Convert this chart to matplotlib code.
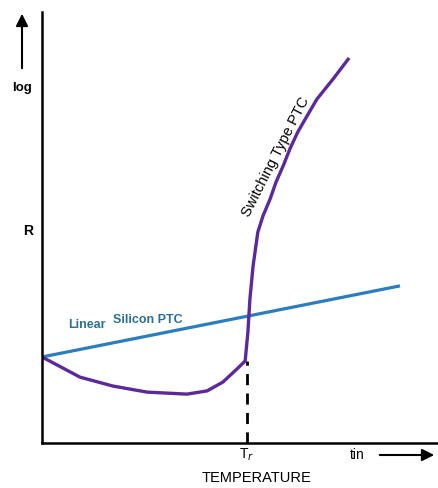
import matplotlib.pyplot as plt

plt.rcParams['font.family'] = ['Liberation Sans', 'DejaVu Sans']

# temperature (0-100, linear) vs log R (arbitrary units)
silicon_t = [0, 90.4]
silicon_r = [21.3, 38.9]

switch_t = [0, 9.6, 17.9, 26.5, 36.6, 41.7, 45.7, 49.2, 51.3, 52.0, 52.5, 53.3,
            54.5, 55.8, 57.6, 59.1, 60.9, 62.6, 64.6, 66.9, 69.4, 73.5, 77.3]
switch_r = [21.3, 16.3, 14.1, 12.6, 12.1, 12.9, 15.1, 18.3, 20.3, 27.5, 35.6, 43.8,
            52.2, 56.2, 60.4, 64.6, 68.6, 72.8, 77.0, 80.9, 85.1, 90.1, 95.0]

t_r = 51.8
t_r_level = 20.3

W, H = 438, 489
fig = plt.figure(figsize=(W / 100, H / 100), dpi=100)
ax = fig.add_axes([42 / W, 45 / H, 396 / W, 431 / H])
ax.set_xlim(0, 100)
ax.set_ylim(0, 106.7)

ax.plot(silicon_t, silicon_r, color='#2a7dc0', lw=2.3, solid_capstyle='butt')
ax.plot(switch_t, switch_r, color='#5a2a9c', lw=2.4, solid_joinstyle='round')
ax.plot([t_r, t_r], [0, t_r_level], color='black', lw=2, ls=(0, (4, 3)))

for s in ['top', 'right']:
    ax.spines[s].set_visible(False)
for s in ['left', 'bottom']:
    ax.spines[s].set_linewidth(1.8)
ax.set_xticks([])
ax.set_yticks([])
ax.patch.set_alpha(0)

# labels on the curves
ax.text(6.5, 29.5, 'Linear', color='#2d6f94', fontsize=9, fontweight='bold',
        ha='left', va='center')
ax.text(18, 30.8, 'Silicon PTC', color='#2d6f94', fontsize=9, fontweight='bold',
        ha='left', va='center')
ax.text(59.0, 71.0, 'Switching Type PTC', color='black', fontsize=10.5,
        rotation=63, ha='center', va='center', rotation_mode='anchor')

# axis annotations outside the frame
fig.text(22 / W, 1 - 88 / H, 'log', fontsize=9.5, fontweight='bold', ha='center', va='center')
fig.text(28 / W, 1 - 231 / H, 'R', fontsize=10, fontweight='bold', ha='center', va='center')
fig.text(247 / W, 1 - 455 / H, 'T$_r$', fontsize=10, ha='center', va='center')
fig.text(257 / W, 1 - 478 / H, 'TEMPERATURE', fontsize=10.5, ha='center', va='center')
fig.text(357 / W, 1 - 455 / H, 'tin', fontsize=10, ha='center', va='center')

ax.annotate('', xy=(22, H - 12), xytext=(22, H - 72), xycoords='figure pixels',
            arrowprops=dict(arrowstyle='-|>', color='black', lw=1.5, mutation_scale=18))
ax.annotate('', xy=(437, H - 456), xytext=(377, H - 456), xycoords='figure pixels',
            arrowprops=dict(arrowstyle='-|>', color='black', lw=1.5, mutation_scale=18))

fig.savefig('out.png', dpi=100)
